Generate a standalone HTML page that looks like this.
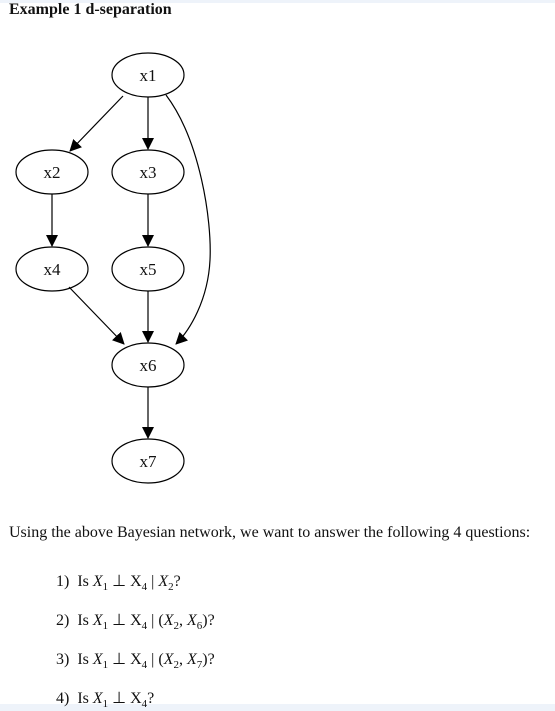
<!DOCTYPE html>
<html><head><style>
body{margin:0;width:555px;height:711px;background:#fff;position:relative;overflow:hidden;font-family:"Liberation Serif",serif;color:#111}
.t{position:absolute;white-space:nowrap}
i{font-style:italic}
sub{font-size:11px}
</style></head><body>
<div style="position:absolute;left:0;top:0;width:555px;height:3px;background:#eef3fa"></div>
<div style="position:absolute;left:0;top:704px;width:555px;height:7px;background:#eef3fa"></div>
<div class="t" style="left:9px;top:1px;font-size:16px;font-weight:bold">Example 1 d-separation</div>
<svg width="555" height="500" style="position:absolute;left:0;top:0" font-family="Liberation Serif" font-size="17">
<defs><marker id="a" markerWidth="12" markerHeight="12" refX="11" refY="6" orient="auto" markerUnits="userSpaceOnUse"><path d="M0,0 L12,6 L0,12z" fill="#000"/></marker></defs>
<g fill="none" stroke="#000" stroke-width="1.2">
<ellipse cx="148" cy="75" rx="36" ry="22"/>
<ellipse cx="52" cy="172" rx="36" ry="22"/>
<ellipse cx="148" cy="172" rx="36" ry="22"/>
<ellipse cx="52" cy="269" rx="36" ry="22"/>
<ellipse cx="148" cy="269" rx="36" ry="22"/>
<ellipse cx="148" cy="365" rx="36" ry="22"/>
<ellipse cx="148" cy="461" rx="36" ry="22"/>
<path d="M123,96 L70,151" marker-end="url(#a)"/>
<path d="M148,97 L148,149" marker-end="url(#a)"/>
<path d="M166,95 C200,140 212,220 210,260 C208,300 190,330 176,344" marker-end="url(#a)"/>
<path d="M52,194 L52,246" marker-end="url(#a)"/>
<path d="M148,194 L148,246" marker-end="url(#a)"/>
<path d="M148,291 L148,342" marker-end="url(#a)"/>
<path d="M69,287 L124,344" marker-end="url(#a)"/>
<path d="M148,387 L148,438" marker-end="url(#a)"/>
</g>
<g text-anchor="middle" fill="#111">
<text x="148" y="81">x1</text><text x="52" y="178">x2</text><text x="148" y="178">x3</text>
<text x="52" y="275">x4</text><text x="148" y="275">x5</text><text x="148" y="371">x6</text><text x="148" y="467">x7</text>
</g>
</svg>
<div class="t" style="left:9px;top:524px;font-size:16px">Using the above Bayesian network, we want to answer the following 4 questions:</div>
<div class="t" style="left:56px;top:571px;font-size:16px">1)&nbsp; Is <i>X</i><sub>1</sub> ⊥ X<sub>4</sub> | <i>X</i><sub>2</sub>?</div>
<div class="t" style="left:56px;top:610px;font-size:16px">2)&nbsp; Is <i>X</i><sub>1</sub> ⊥ X<sub>4</sub> | (<i>X</i><sub>2</sub>, <i>X</i><sub>6</sub>)?</div>
<div class="t" style="left:56px;top:649px;font-size:16px">3)&nbsp; Is <i>X</i><sub>1</sub> ⊥ X<sub>4</sub> | (<i>X</i><sub>2</sub>, <i>X</i><sub>7</sub>)?</div>
<div class="t" style="left:56px;top:688px;font-size:16px">4)&nbsp; Is <i>X</i><sub>1</sub> ⊥ X<sub>4</sub>?</div>
</body></html>
